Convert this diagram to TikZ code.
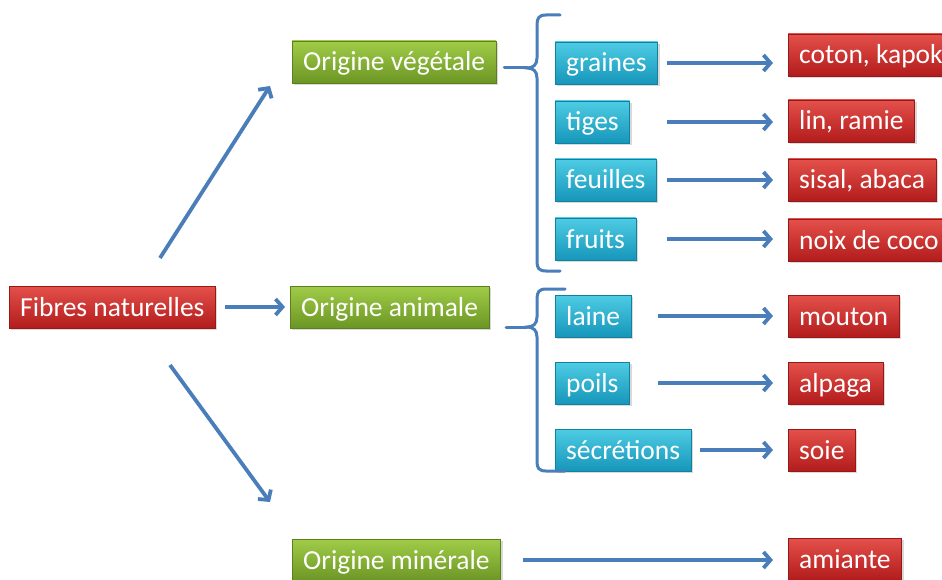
\documentclass[tikz,border=0pt]{standalone}
\usepackage{fontspec}
\setmainfont{Carlito}
\usetikzlibrary{arrows.meta,shadows}
\definecolor{bleu}{RGB}{74,126,187}
\definecolor{rougeH}{RGB}{228,80,74}
\definecolor{rougeB}{RGB}{178,28,28}
\definecolor{vertH}{RGB}{160,204,72}
\definecolor{vertB}{RGB}{108,150,36}
\definecolor{cyanH}{RGB}{78,204,228}
\definecolor{cyanB}{RGB}{22,150,186}
\tikzset{box/.style={rectangle,anchor=west,text=white,font=\fontsize{27.5}{30}\selectfont,inner xsep=11pt,inner ysep=0pt,text height=22pt,text depth=4pt,minimum height=42pt,drop shadow={opacity=0.3,shadow xshift=2pt,shadow yshift=-2pt}},
  red node/.style={box,top color=rougeH,bottom color=rougeB,draw=rougeB!85!black,thin},
  green node/.style={box,top color=vertH,bottom color=vertB,draw=vertB!85!black,thin},
  blue node/.style={box,top color=cyanH,bottom color=cyanB,draw=cyanB!85!black,thin},
  fleche/.style={draw=bleu,line width=3.8pt,shorten >=15pt,-{Straight Barb[length=7pt,width=16pt]}},
  accolade/.style={draw=bleu,line width=3pt,line cap=round},}
\newcommand{\fl}[3]{\draw[fleche] (#1.east -| #3) -- (#1.east -| #2.west);}

\begin{document}
\begin{tikzpicture}[x=1pt,y=-1pt]
        \useasboundingbox (0,0) rectangle (942,580);

        \node[red node] (fib) at (9,307) {Fibres naturelles};
        \node[green node] (veg) at (292,62) {Origine végétale};
        \node[green node] (ani) at (290,307) {Origine animale};
        \node[green node] (min) at (292,560) {Origine minérale};

        \node[blue node] (graines) at (555,63) {graines};
        \node[blue node] (tiges) at (555,122) {tiges};
        \node[blue node] (feuilles) at (555,180) {feuilles};
        \node[blue node] (fruits) at (555,239) {fruits};
        \node[blue node] (laine) at (555,316) {laine};
        \node[blue node] (poils) at (555,383) {poils};
        \node[blue node] (secr) at (555,450) {sécrétions};

        \node[red node] (coton) at (788,55) {coton, kapok};
        \node[red node] (lin) at (788,121) {lin, ramie};
        \node[red node] (sisal) at (788,180) {sisal, abaca};
        \node[red node] (noix) at (788,240) {noix de coco};
        \node[red node] (mouton) at (788,316) {mouton};
        \node[red node] (alpaga) at (788,383) {alpaga};
        \node[red node] (soie) at (788,450) {soie};
        \node[red node] (amiante) at (788,559) {amiante};

        % accolades
        \draw[accolade] (560,15) -- (546,15) .. controls (539,15) and (537,18) .. (537,25) -- (537,58)
            .. controls (537,65) and (533,68) .. (527,68) coordinate (tipV)
            .. controls (533,68) and (537,71) .. (537,78) -- (537,262)
            .. controls (537,268) and (539,271) .. (546,271) -- (560,271);
        \draw[accolade] (565,289) -- (546,289) .. controls (539,289) and (537,292) .. (537,299) -- (537,317)
            .. controls (537,324) and (533,327) .. (527,327) coordinate (tipA)
            .. controls (533,327) and (537,330) .. (537,337) -- (537,462)
            .. controls (537,468) and (539,471) .. (546,471) -- (565,471);
        \draw[accolade] (tipV -| veg.east) ++(8,0) -- (tipV);
        \draw[accolade] (tipA -| ani.east) ++(17,0) -- (tipA);

        \coordinate (d1) at (160,258);
        \coordinate (d2) at (270,86);
        \coordinate (d3) at (170,365);
        \coordinate (d4) at (270,502);
        \coordinate (colV) at (667,0);
        \coordinate (colA) at (658,0);
        \coordinate (colS) at (700,0);
        \coordinate (colM) at (523,0);

        \draw[fleche,shorten >=0pt] (d1) -- (d2);
        \draw[fleche,shorten >=0pt] (d3) -- (d4);
        \draw[fleche,shorten <=9pt,shorten >=5pt] (fib) -- (ani);

        \fl{graines}{coton}{colV}
        \fl{tiges}{lin}{colV}
        \fl{feuilles}{sisal}{colV}
        \fl{fruits}{noix}{colV}
        \fl{laine}{mouton}{colA}
        \fl{poils}{alpaga}{colA}
        \fl{secr}{soie}{colS}
        \fl{min}{amiante}{colM}
\end{tikzpicture}
\end{document}
